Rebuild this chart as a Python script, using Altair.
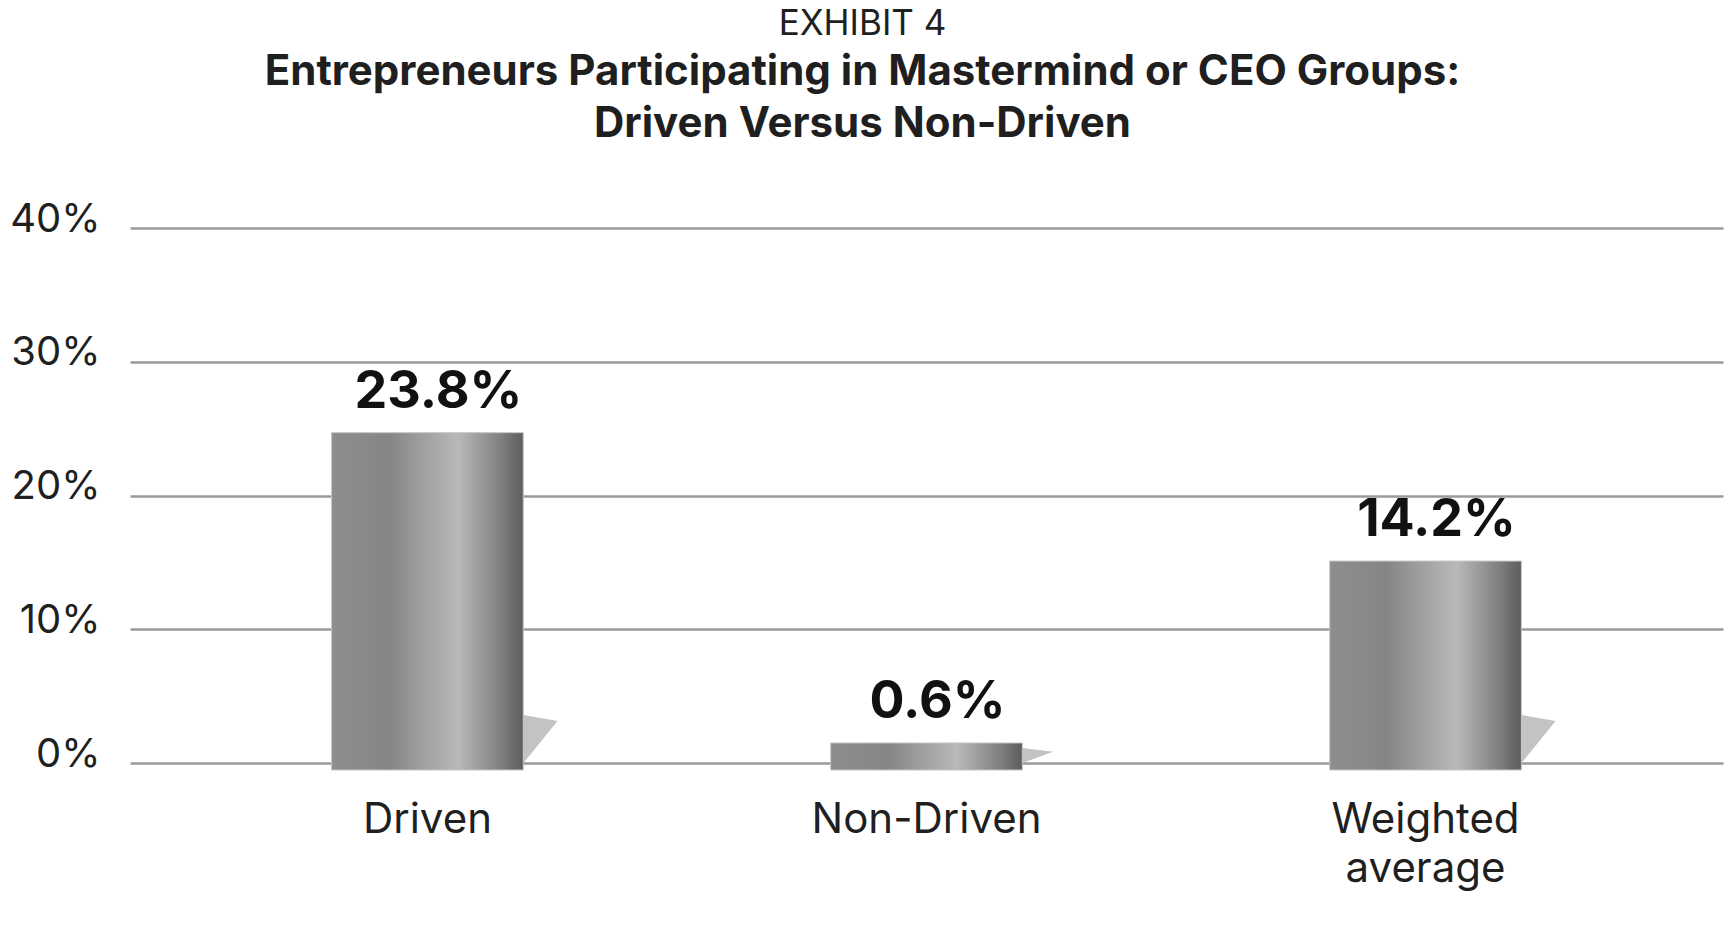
import altair as alt
import pandas as pd

categories = ["Driven", "Non-Driven", "Weighted average"]
values = [23.8, 0.6, 14.2]
y_ticks = [0, 10, 20, 30, 40]

df = pd.DataFrame({"category": categories, "value": values})

FONT = "Inter"
TXT = "#1f1f1f"

grad = alt.Gradient(
    gradient="linear",
    x1=0, x2=1, y1=0, y2=0,
    stops=[
        alt.GradientStop(color="#8d8d8d", offset=0.0),
        alt.GradientStop(color="#8a8a8a", offset=0.15),
        alt.GradientStop(color="#858585", offset=0.30),
        alt.GradientStop(color="#9c9c9c", offset=0.45),
        alt.GradientStop(color="#b0b0b0", offset=0.60),
        alt.GradientStop(color="#b9b9b9", offset=0.66),
        alt.GradientStop(color="#9a9a9a", offset=0.78),
        alt.GradientStop(color="#7b7b7b", offset=0.90),
        alt.GradientStop(color="#6a6a6a", offset=0.95),
        alt.GradientStop(color="#5e5e5e", offset=1.0),
    ],
)

x_enc = alt.X(
    "category:N",
    sort=categories,
    scale=alt.Scale(paddingInner=0.616, paddingOuter=0.404),
    axis=alt.Axis(
        title=None, labelAngle=0, domain=False, ticks=False, tickSize=0,
        labelFont=FONT, labelFontSize=42, labelColor=TXT, labelPadding=56,
        labelExpr="split(datum.label, ' ')", labelLineHeight=49,
        labelLimit=0, labelAlign="center",
    ),
)
y_scale = alt.Scale(domain=[0, 40])

base = alt.Chart(df)

bars = base.mark_bar(color=grad, yOffset=-12, y2Offset=7, stroke="#c4c4c4", strokeWidth=1).encode(
    x=x_enc,
    y=alt.Y(
        "value:Q",
        scale=y_scale,
        axis=alt.Axis(
            title=None, values=y_ticks, domain=False, ticks=False, tickSize=0,
            labelExpr="datum.value + '%'", labelFont=FONT, labelFontSize=40,
            labelColor=TXT, labelPadding=30, labelOffset=-9, labelLimit=0,
            grid=True, gridColor="#9a9a9a", gridWidth=2.5,
        ),
    ),
    y2=alt.datum(0),
)

shadow_big = base.transform_filter("datum.value >= 3").mark_point(
    shape="M0,-1 L1.42,-0.75 L0,1 Z", size=2304, filled=True, opacity=1,
    color="#c3c3c3", strokeWidth=0, xOffset=96, yOffset=-24,
).encode(x=alt.X("category:N", sort=categories), y=alt.datum(0))

shadow_small = base.transform_filter("datum.value < 3").mark_point(
    shape="M0,-1 L4.1,-0.5 L0,1 Z", size=225, filled=True, opacity=1,
    color="#c3c3c3", strokeWidth=0, xOffset=96, yOffset=-7.5,
).encode(x=alt.X("category:N", sort=categories), y=alt.datum(0))

labels = base.transform_calculate(
    lbl="format(datum.value, '.1f') + '%'"
).mark_text(
    font=FONT, fontSize=52, fontWeight="bold", color="#111111",
    baseline="alphabetic", align="center", xOffset=11, yOffset=-37,
).encode(
    x=alt.X("category:N", sort=categories),
    y=alt.Y("value:Q", scale=y_scale),
    text="lbl:N",
)

chart = alt.layer(shadow_big, shadow_small, bars, labels).properties(
    width=1593,
    height=535,
    title=alt.TitleParams(
        text="EXHIBIT 4",
        subtitle=["Entrepreneurs Participating in Mastermind or CEO Groups:", "Driven Versus Non-Driven"],
        anchor="middle", frame="group", dx=-64, offset=54,
        font=FONT, fontSize=35, fontWeight="normal", color=TXT,
        subtitleFont=FONT, subtitleFontSize=42, subtitleFontWeight="bold",
        subtitleColor=TXT, subtitleLineHeight=52, subtitlePadding=10,
    ),
    autosize=alt.AutoSizeParams(type="none"),
    padding={"left": 122, "top": 220, "right": 2, "bottom": 140},
).configure(background="white").configure_view(stroke=None, strokeWidth=0)

chart.save("out.html", embed_options={"renderer": "svg", "actions": False})
